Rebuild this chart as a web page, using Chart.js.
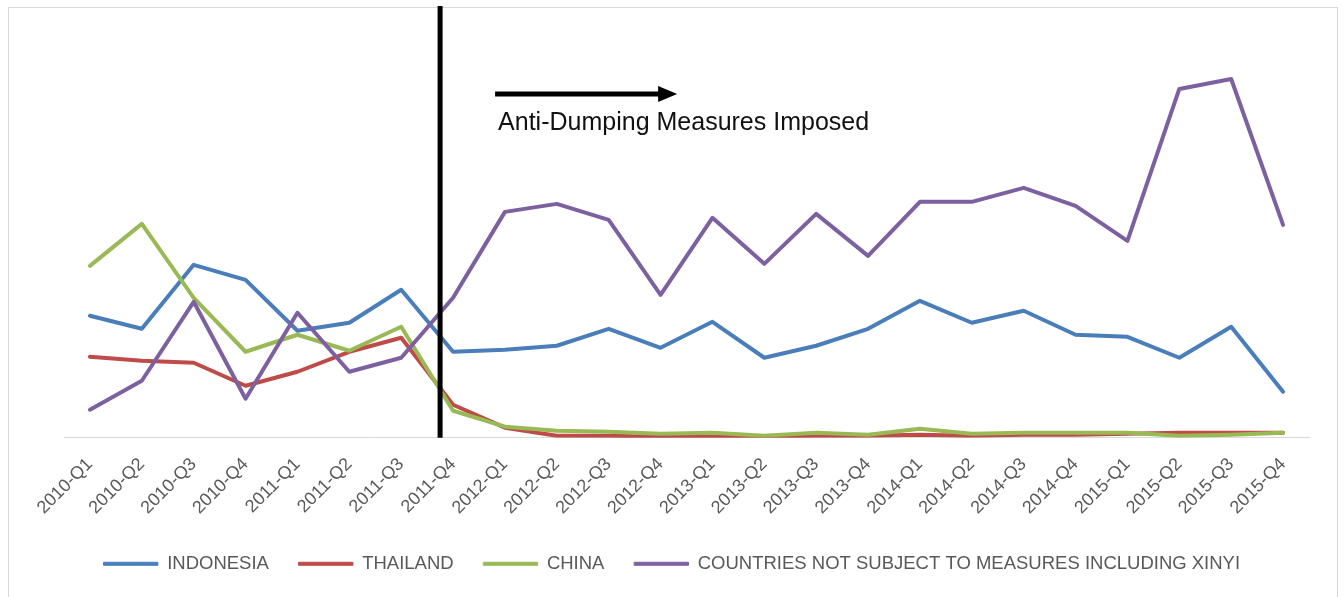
<!DOCTYPE html>
<html>
<head>
<meta charset="utf-8">
<script src="https://cdn.jsdelivr.net/npm/chart.js@4.4.1/dist/chart.umd.min.js"></script>
<style>
  html, body { margin: 0; padding: 0; background: #fff; }
  #wrap { position: relative; width: 1344px; height: 597px; }
</style>
</head>
<body>
<div id="wrap"><canvas id="myChart" width="1344" height="597"></canvas></div>
<script>
var quarters = ["2010-Q1", "2010-Q2", "2010-Q3", "2010-Q4", "2011-Q1", "2011-Q2", "2011-Q3", "2011-Q4",
  "2012-Q1", "2012-Q2", "2012-Q3", "2012-Q4", "2013-Q1", "2013-Q2", "2013-Q3", "2013-Q4",
  "2014-Q1", "2014-Q2", "2014-Q3", "2014-Q4", "2015-Q1", "2015-Q2", "2015-Q3", "2015-Q4"];

var indonesia = [122, 109, 173, 158, 107, 115, 148, 86, 88, 92, 109, 90,
  116, 80, 92, 109, 137, 115, 127, 103, 101, 80, 111, 46];
var thailand = [81, 77, 75, 52, 66, 86, 100, 33, 10, 2, 2, 1,
  2, 1, 2, 2, 3, 2, 3, 3, 4, 5, 5, 5];
var china = [172, 214, 140, 86, 103, 87, 111, 27, 11, 7, 6, 4,
  5, 2, 5, 3, 9, 4, 5, 5, 5, 2, 3, 5];
var others = [28, 57, 136, 39, 125, 66, 80, 140, 226, 234, 218, 143,
  220, 174, 224, 182, 236, 236, 250, 232, 197, 349, 359, 213];

var seriesNames = ["INDONESIA", "THAILAND", "CHINA", "COUNTRIES NOT SUBJECT TO MEASURES INCLUDING XINYI"];
var seriesColors = ["#4a7ebb", "#be4b48", "#98b954", "#7d60a0"];

// measures start three quarters of the way into 2011-Q3 -> 2011-Q4
var measuresAt = 6.75;
var measuresText = "Anti-Dumping Measures Imposed";

var fontName = "'Liberation Sans', Arial, sans-serif";

function makeSet(i, values) {
  return {
    label: seriesNames[i],
    data: values,
    borderColor: seriesColors[i],
    backgroundColor: seriesColors[i],
    borderWidth: 4,
    pointRadius: 0,
    tension: 0,
    borderJoinStyle: "round",
    borderCapStyle: "round",
    order: 4 - i   // later series drawn on top
  };
}

// frame, the black marker line and the arrow with its caption
var extras = {
  id: "extras",
  beforeDraw: function(chart) {
    var ctx = chart.ctx;
    ctx.save();
    ctx.strokeStyle = "#d9d9d9";
    ctx.lineWidth = 1;
    ctx.strokeRect(8.5, 7.5, 1329, 600);
    ctx.restore();
  },
  afterDatasetsDraw: function(chart) {
    var ctx = chart.ctx;
    var x = chart.scales.x.getPixelForValue(measuresAt);
    var bottom = chart.chartArea.bottom;
    ctx.save();
    ctx.strokeStyle = "#000";
    ctx.lineWidth = 5;
    ctx.beginPath();
    ctx.moveTo(x, 6);
    ctx.lineTo(x, bottom);
    ctx.stroke();

    // arrow
    var ax = x + 55, ay = 94;
    ctx.lineWidth = 5;
    ctx.beginPath();
    ctx.moveTo(ax, ay);
    ctx.lineTo(ax + 165, ay);
    ctx.stroke();
    ctx.fillStyle = "#000";
    ctx.beginPath();
    ctx.moveTo(ax + 163, ay - 8);
    ctx.lineTo(ax + 182, ay);
    ctx.lineTo(ax + 163, ay + 8);
    ctx.closePath();
    ctx.fill();

    ctx.fillStyle = "#111";
    ctx.font = "25px " + fontName;
    ctx.textBaseline = "alphabetic";
    ctx.fillText(measuresText, ax + 3, 130);
    ctx.restore();
  }
};

new Chart("myChart", {
  type: "line",
  data: {
    labels: quarters,
    datasets: [
      makeSet(0, indonesia),
      makeSet(1, thailand),
      makeSet(2, china),
      makeSet(3, others)
    ]
  },
  options: {
    responsive: false,
    animation: false,
    layout: { padding: { left: 35, right: 35, top: 38, bottom: 14 } },
    scales: {
      x: {
        offset: true,
        grid: { display: false, drawTicks: false },
        border: { display: true, color: "#d9d9d9", width: 1 },
        ticks: {
          color: "#595959",
          font: { family: fontName, size: 18 },
          maxRotation: 45,
          minRotation: 45,
          autoSkip: false,
          padding: 16
        },
        // let the rotated labels run a little into the legend band
        afterFit: function(scale) { scale.height -= 10; }
      },
      y: {
        // hidden axis, only keeps the plot clear of the left edge
        display: true,
        min: 0,
        max: 400,
        grid: { display: false, drawTicks: false },
        border: { display: false },
        ticks: { display: false },
        afterFit: function(scale) { scale.width = 29; }
      }
    },
    plugins: {
      title: { display: false },
      tooltip: { enabled: false },
      legend: {
        display: true,
        position: "bottom",
        labels: {
          color: "#595959",
          font: { family: fontName, size: 18.5 },
          boxWidth: 54,
          boxHeight: 3,
          padding: 30,
          sort: function(a, b) { return a.datasetIndex - b.datasetIndex; },
          generateLabels: function(chart) {
            var items = Chart.defaults.plugins.legend.labels.generateLabels(chart);
            items.forEach(function(it) {
              it.lineWidth = 1;
              it.strokeStyle = it.fillStyle;
            });
            return items;
          }
        }
      }
    }
  },
  plugins: [extras]
});
</script>
</body>
</html>
